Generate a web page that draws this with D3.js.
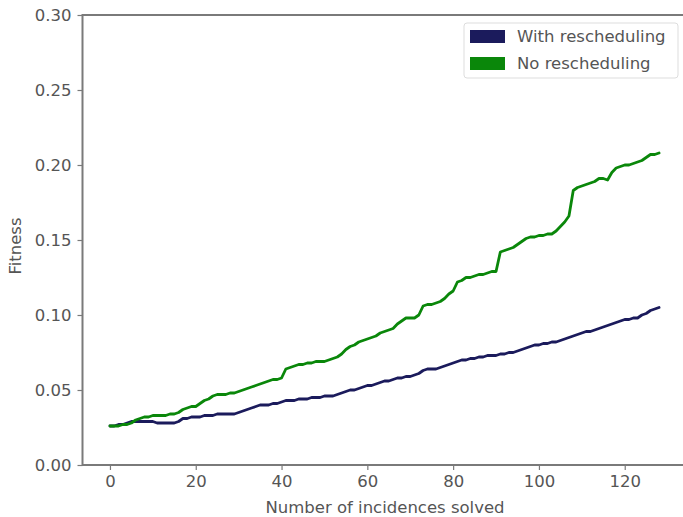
<!DOCTYPE html>
<html>
<head>
<meta charset="utf-8">
<script src="https://cdn.jsdelivr.net/npm/d3@7"></script>
<style>
  body { margin: 0; background: #fff; }
  svg { font-family: "DejaVu Sans", sans-serif; }
</style>
</head>
<body>
<svg></svg>
<script>
var width = 683,
    height = 517;

// incidences solved: 0..128
var incidences = [
  0, 1, 2, 3, 4, 5, 6, 7, 8, 9, 10, 11, 12, 13, 14, 15, 16, 17, 18, 19,
  20, 21, 22, 23, 24, 25, 26, 27, 28, 29, 30, 31, 32, 33, 34, 35, 36, 37, 38, 39,
  40, 41, 42, 43, 44, 45, 46, 47, 48, 49, 50, 51, 52, 53, 54, 55, 56, 57, 58, 59,
  60, 61, 62, 63, 64, 65, 66, 67, 68, 69, 70, 71, 72, 73, 74, 75, 76, 77, 78, 79,
  80, 81, 82, 83, 84, 85, 86, 87, 88, 89, 90, 91, 92, 93, 94, 95, 96, 97, 98, 99,
  100, 101, 102, 103, 104, 105, 106, 107, 108, 109, 110, 111, 112, 113, 114, 115, 116, 117, 118, 119,
  120, 121, 122, 123, 124, 125, 126, 127, 128
];

var withRescheduling = [
  .026, .026, .027, .027, .028, .029, .029, .029, .029, .029,
  .029, .028, .028, .028, .028, .028, .029, .031, .031, .032,
  .032, .032, .033, .033, .033, .034, .034, .034, .034, .034,
  .035, .036, .037, .038, .039, .040, .040, .040, .041, .041,
  .042, .043, .043, .043, .044, .044, .044, .045, .045, .045,
  .046, .046, .046, .047, .048, .049, .050, .050, .051, .052,
  .053, .053, .054, .055, .056, .056, .057, .058, .058, .059,
  .059, .060, .061, .063, .064, .064, .064, .065, .066, .067,
  .068, .069, .070, .070, .071, .071, .072, .072, .073, .073,
  .073, .074, .074, .075, .075, .076, .077, .078, .079, .080,
  .080, .081, .081, .082, .082, .083, .084, .085, .086, .087,
  .088, .089, .089, .090, .091, .092, .093, .094, .095, .096,
  .097, .097, .098, .098, .100, .101, .103, .104, .105
];

var noRescheduling = [
  .026, .026, .026, .027, .027, .028, .030, .031, .032, .032,
  .033, .033, .033, .033, .034, .034, .035, .037, .038, .039,
  .039, .041, .043, .044, .046, .047, .047, .047, .048, .048,
  .049, .050, .051, .052, .053, .054, .055, .056, .057, .057,
  .058, .064, .065, .066, .067, .067, .068, .068, .069, .069,
  .069, .070, .071, .072, .074, .077, .079, .080, .082, .083,
  .084, .085, .086, .088, .089, .090, .091, .094, .096, .098,
  .098, .098, .100, .106, .107, .107, .108, .109, .111, .114,
  .116, .122, .123, .125, .125, .126, .127, .127, .128, .129,
  .129, .142, .143, .144, .145, .147, .149, .151, .152, .152,
  .153, .153, .154, .154, .156, .159, .162, .166, .183, .185,
  .186, .187, .188, .189, .191, .191, .190, .195, .198, .199,
  .200, .200, .201, .202, .203, .205, .207, .207, .208
];

var xTicks = [0, 20, 40, 60, 80, 100, 120];
var yTicks = [0, 0.05, 0.10, 0.15, 0.20, 0.25, 0.30];

var seriesNames = ["With rescheduling", "No rescheduling"];
var seriesColors = ["#1b1b5c", "#0a870a"];

var svg = d3.select("svg")
    .attr("width", width)
    .attr("height", height);

var x = d3.scaleLinear()
    .domain([-6.4, 134.4])
    .range([82.5, 686.5]);

var y = d3.scaleLinear()
    .domain([0, 0.30])
    .range([465, 15]);

////////////////////////
// Axes
////////////////////////

var axisColor = "#7a7a7a",
    textColor = "#555",
    fontSize = "16.5px";

var xAxis = svg.append("g")
    .attr("transform", "translate(0," + y(0) + ")")
    .call(d3.axisBottom(x).tickValues(xTicks).tickSize(5).tickPadding(5).tickFormat(d3.format("d")));

var yAxis = svg.append("g")
    .attr("transform", "translate(" + x.range()[0] + ",0)")
    .call(d3.axisLeft(y).tickValues(yTicks).tickSize(5).tickPadding(6).tickFormat(d3.format(".2f")));

[xAxis, yAxis].forEach(function(g) {
    g.select(".domain").remove();
    g.selectAll(".tick line").attr("stroke", axisColor).attr("stroke-width", 1.2);
    g.selectAll(".tick text")
        .attr("fill", textColor)
        .style("font-size", fontSize)
        .style("font-family", "DejaVu Sans, sans-serif");
});

// frame
svg.append("rect")
    .attr("x", x.range()[0])
    .attr("y", y(0.30))
    .attr("width", x.range()[1] - x.range()[0])
    .attr("height", y(0) - y(0.30))
    .attr("fill", "none")
    .attr("stroke", axisColor)
    .attr("stroke-width", 2);

svg.append("text")
    .attr("x", 385)
    .attr("y", 513)
    .attr("text-anchor", "middle")
    .attr("fill", textColor)
    .style("font-size", fontSize)
    .text("Number of incidences solved");

svg.append("text")
    .attr("transform", "translate(21," + (y(0.15) + 6) + ") rotate(-90)")
    .attr("text-anchor", "middle")
    .attr("fill", textColor)
    .style("font-size", fontSize)
    .text("Fitness");

////////////////////////
// Lines
////////////////////////

var line = d3.line()
    .x(function(d, i) { return x(incidences[i]); })
    .y(function(d) { return y(d); });

[withRescheduling, noRescheduling].forEach(function(values, i) {
    svg.append("path")
        .datum(values)
        .attr("d", line)
        .attr("fill", "none")
        .attr("stroke", seriesColors[i])
        .attr("stroke-width", 2.8)
        .attr("stroke-linejoin", "round")
        .attr("stroke-linecap", "round");
});

////////////////////////
// Legend
////////////////////////

var legend = svg.append("g");

legend.append("rect")
    .attr("x", 464)
    .attr("y", 23)
    .attr("width", 214)
    .attr("height", 55)
    .attr("rx", 3)
    .attr("fill", "#fff")
    .attr("fill-opacity", 0.8)
    .attr("stroke", "#ddd")
    .attr("stroke-width", 1);

seriesNames.forEach(function(name, i) {
    legend.append("rect")
        .attr("x", 470)
        .attr("y", 30 + i * 27)
        .attr("width", 35)
        .attr("height", 13)
        .attr("fill", seriesColors[i]);
    legend.append("text")
        .attr("x", 517)
        .attr("y", 42 + i * 27)
        .attr("fill", textColor)
        .style("font-size", fontSize)
        .text(name);
});
</script>
</body>
</html>
